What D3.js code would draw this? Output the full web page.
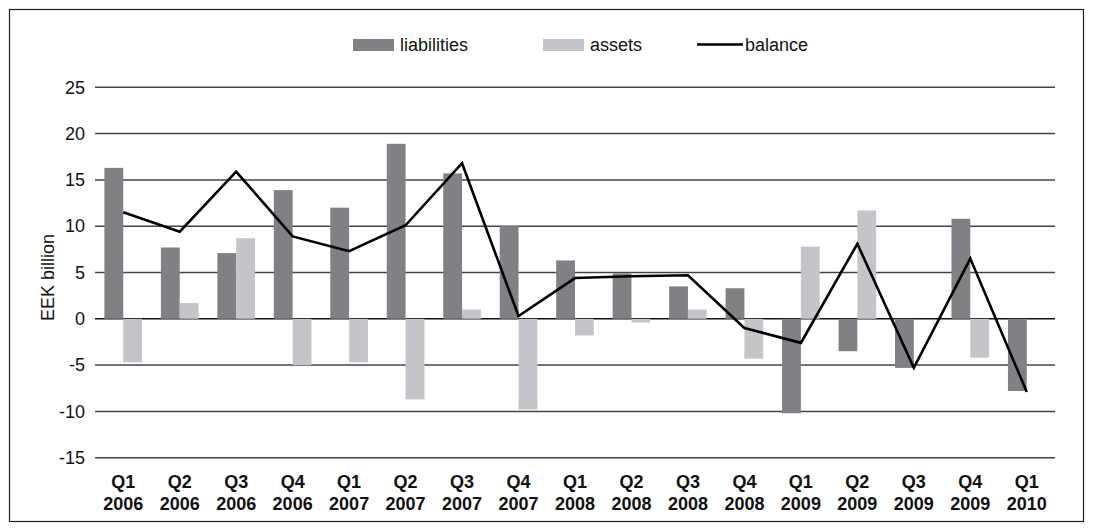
<!DOCTYPE html>
<html>
<head>
<meta charset="utf-8">
<script src="https://cdn.jsdelivr.net/npm/d3@7"></script>
<style>
  html, body { margin: 0; padding: 0; background: #fff; }
  svg { display: block; font-family: "Liberation Sans", Arial, Helvetica, sans-serif; }
</style>
</head>
<body>
<svg id="chart" width="1093" height="531"></svg>
<script>
// Quarterly categories (quarter / year shown on two lines)
const quarters = ["Q1","Q2","Q3","Q4","Q1","Q2","Q3","Q4","Q1","Q2","Q3","Q4","Q1","Q2","Q3","Q4","Q1"];
const years    = ["2006","2006","2006","2006","2007","2007","2007","2007","2008","2008","2008","2008","2009","2009","2009","2009","2010"];

// EEK billion
const liabilities = [16.3, 7.7, 7.1, 13.9, 12.0, 18.9, 15.7, 10.0, 6.3, 4.9, 3.5, 3.3, -10.2, -3.5, -5.3, 10.8, -7.8];
const assets      = [-4.7, 1.7, 8.7, -5.0, -4.7, -8.7, 1.0, -9.8, -1.8, -0.4, 1.0, -4.3, 7.8, 11.7, 0, -4.2, 0];
const balance     = [11.5, 9.4, 15.9, 8.9, 7.3, 10.1, 16.8, 0.3, 4.4, 4.6, 4.7, -1.0, -2.6, 8.1, -5.3, 6.5, -7.9];

const yTicks = [-15, -10, -5, 0, 5, 10, 15, 20, 25];
const seriesNames = ["liabilities", "assets"];
const colors = { liabilities: "#818085", assets: "#c4c5c9", balance: "#000000" };

const svg = d3.select("#chart");
const plot = { left: 95, right: 1055, top: 87.3, bottom: 457.7 };

// frame
svg.append("rect")
  .attr("x", 9.5).attr("y", 9.5)
  .attr("width", 1074).attr("height", 512)
  .attr("fill", "none").attr("stroke", "#222").attr("stroke-width", 1.2);

const keys = d3.range(quarters.length);
const x = d3.scaleBand().domain(keys).range([plot.left, plot.right]).paddingInner(0).paddingOuter(0);
const xs = d3.scaleBand().domain(seriesNames).range([0, x.bandwidth()]).paddingInner(0).paddingOuter(0.5);
const y = d3.scaleLinear().domain([-15, 25]).range([plot.bottom, plot.top]);

// gridlines
svg.append("g").selectAll("line").data(yTicks).join("line")
  .attr("x1", plot.left).attr("x2", plot.right)
  .attr("y1", d => y(d)).attr("y2", d => y(d))
  .attr("stroke", d => d === 0 ? "#111" : "#444")
  .attr("stroke-width", 1.5);

// y axis labels (plain hyphen for negatives)
const yAxis = d3.axisLeft(y).tickValues(yTicks).tickSize(0).tickPadding(0).tickFormat(d => String(d));
const gy = svg.append("g").attr("transform", "translate(85,0)").call(yAxis);
gy.select(".domain").remove();
gy.selectAll("text").attr("font-size", 18).attr("fill", "#111")
  .attr("font-family", "'Liberation Sans', Arial, sans-serif");

svg.append("text")
  .attr("transform", `translate(54,${(plot.top + plot.bottom) / 2 + 5}) rotate(-90)`)
  .attr("text-anchor", "middle")
  .attr("font-size", 18).attr("fill", "#111")
  .text("EEK billion");

// bars
const barData = [];
keys.forEach(i => {
  barData.push({ i, key: "liabilities", v: liabilities[i] });
  barData.push({ i, key: "assets", v: assets[i] });
});
svg.append("g").selectAll("rect").data(barData.filter(d => d.v !== 0)).join("rect")
  .attr("x", d => x(d.i) + xs(d.key))
  .attr("width", xs.bandwidth())
  .attr("y", d => y(Math.max(0, d.v)))
  .attr("height", d => Math.abs(y(d.v) - y(0)))
  .attr("fill", d => colors[d.key]);

// balance line
const line = d3.line().x((d, i) => x(i) + x.bandwidth() / 2).y(d => y(d));
svg.append("path").datum(balance)
  .attr("d", line)
  .attr("fill", "none").attr("stroke", colors.balance)
  .attr("stroke-width", 2.6).attr("stroke-linejoin", "miter");

// x labels
const xl = svg.append("g").selectAll("text").data(keys).join("text")
  .attr("text-anchor", "middle")
  .attr("font-size", 18).attr("font-weight", "bold").attr("fill", "#111")
  .attr("x", i => x(i) + x.bandwidth() / 2);
xl.append("tspan").attr("x", i => x(i) + x.bandwidth() / 2).attr("y", 488).text(i => quarters[i]);
xl.append("tspan").attr("x", i => x(i) + x.bandwidth() / 2).attr("y", 510).text(i => years[i]);

// legend
const legend = svg.append("g").attr("font-size", 18).attr("fill", "#111");
legend.append("rect").attr("x", 353).attr("y", 39).attr("width", 41).attr("height", 12).attr("fill", colors.liabilities);
legend.append("text").attr("x", 400).attr("y", 50.5).text("liabilities");
legend.append("rect").attr("x", 543).attr("y", 39).attr("width", 41).attr("height", 12).attr("fill", colors.assets);
legend.append("text").attr("x", 590).attr("y", 50.5).text("assets");
legend.append("line").attr("x1", 697).attr("x2", 743).attr("y1", 44.5).attr("y2", 44.5)
  .attr("stroke", colors.balance).attr("stroke-width", 2.6);
legend.append("text").attr("x", 745).attr("y", 50.5).text("balance");
</script>
</body>
</html>
